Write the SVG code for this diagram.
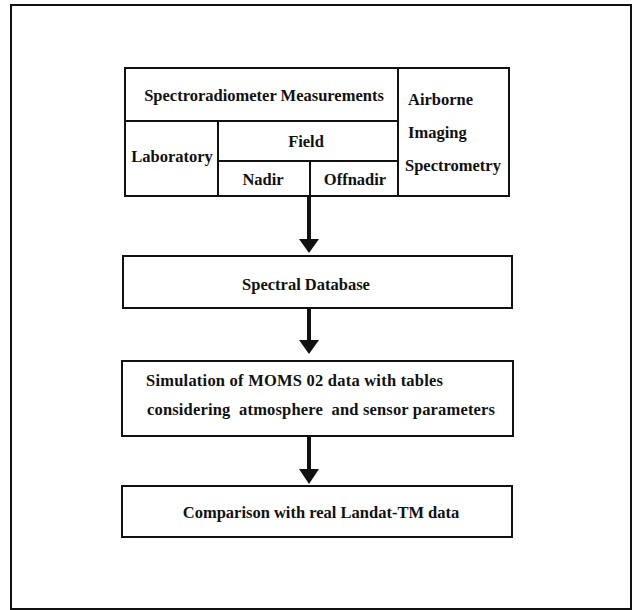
<svg xmlns="http://www.w3.org/2000/svg" width="637" height="610" viewBox="0 0 637 610">
<defs>
<style>
.box{fill:none;stroke:#111;stroke-width:2}
.ln{stroke:#111;stroke-width:2}
.t{font-family:"Liberation Serif","Times New Roman",serif;font-weight:bold;font-size:16.5px;fill:#111}
.c{text-anchor:middle}
.sh{stroke:#111;stroke-width:4}
.hd{fill:#111}
</style>
</defs>
<rect width="637" height="610" fill="#fff"/>
<rect x="11" y="5" width="620" height="604" class="box"/>
<g id="node-measurements">
<rect x="125" y="68" width="384" height="128" class="box"/>
<line x1="398" y1="68" x2="398" y2="196" class="ln"/>
<line x1="125" y1="121" x2="398" y2="121" class="ln"/>
<line x1="218" y1="121" x2="218" y2="196" class="ln"/>
<line x1="218" y1="161" x2="398" y2="161" class="ln"/>
<line x1="310" y1="161" x2="310" y2="196" class="ln"/>
<text x="264" y="101" class="t c">Spectroradiometer Measurements</text>
<text x="172" y="162" class="t c">Laboratory</text>
<text x="306" y="147" class="t c">Field</text>
<text x="263" y="185" class="t c">Nadir</text>
<text x="355" y="185" class="t c">Offnadir</text>
<text x="408" y="105" class="t">Airborne</text>
<text x="408" y="138" class="t">Imaging</text>
<text x="405" y="171" class="t">Spectrometry</text>
</g>
<g id="node-database">
<rect x="123" y="256" width="389" height="52" class="box"/>
<text x="306" y="290" class="t c">Spectral Database</text>
</g>
<g id="node-simulation">
<rect x="122" y="361" width="391" height="75" class="box"/>
<text x="146" y="386" class="t" textLength="297">Simulation of MOMS 02 data with tables</text>
<text x="147" y="415" class="t" xml:space="preserve" textLength="348">considering  atmosphere  and sensor parameters</text>
</g>
<g id="node-comparison">
<rect x="122" y="486" width="390" height="51" class="box"/>
<text x="321" y="518" class="t c">Comparison with real Landat-TM data</text>
</g>
<g id="connectors">
<line x1="309" y1="196" x2="309" y2="240" class="sh"/>
<polygon points="299,239 319,239 309,253" class="hd"/>
<line x1="309" y1="308" x2="309" y2="341" class="sh"/>
<polygon points="299,340 319,340 309,354" class="hd"/>
<line x1="309" y1="436" x2="309" y2="470" class="sh"/>
<polygon points="299,469 319,469 309,484" class="hd"/>
</g>
</svg>
